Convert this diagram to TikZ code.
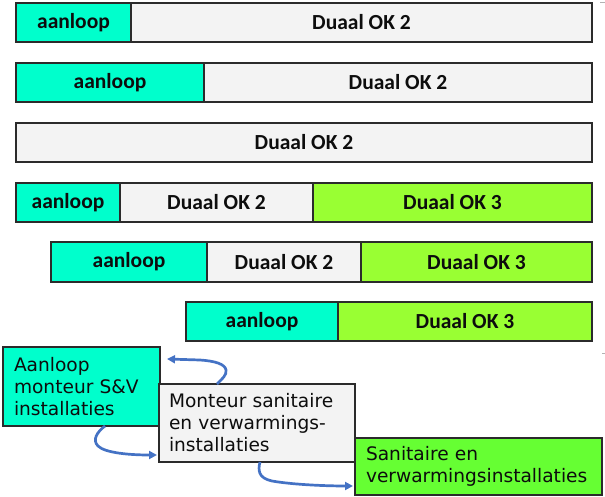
\documentclass[tikz,border=0pt]{standalone}
\usepackage{fontspec}
\newfontfamily\barfont{Carlito}
\newfontfamily\boxfont{DejaVu Sans}
\usetikzlibrary{arrows.meta}
\definecolor{aanc}{HTML}{00FFCC}
\definecolor{duaal}{HTML}{F3F3F3}
\definecolor{okdrie}{HTML}{99FF33}
\definecolor{sangreen}{HTML}{66FF33}
\definecolor{bordc}{HTML}{2B2B2B}
\definecolor{arrc}{HTML}{4472C4}
\definecolor{txtc}{HTML}{0D0D0D}
\hyphenpenalty=10000\relax
\begin{document}
\begin{tikzpicture}[x=1pt,y=-1pt,
  seg/.style={draw=bordc, line width=1.4pt, inner sep=0pt, outer sep=0pt,
    anchor=north west, minimum height=39pt, text=txtc,
    font=\barfont\bfseries\fontsize{21.5}{24}\selectfont},
  tbox/.style={draw=bordc, line width=1.3pt, outer sep=0pt, inner ysep=0pt,
    anchor=north west, align=left, text=txtc,
    font=\boxfont\fontsize{18.6}{22}\selectfont},
  conn/.style={draw=arrc, line width=2.7pt, -{Triangle[length=8pt,width=8pt]}},
  edgemark/.style={draw=gray!60, line width=1pt}]
\useasboundingbox (0,0) rectangle (605,497);
% row 1
\node[seg, fill=aanc, minimum width=115pt] (r1a) at (16,3) {aanloop};
\node[seg, fill=duaal, minimum width=461pt] (r1b) at (131,3) {Duaal OK 2};
% row 2
\node[seg, fill=aanc, minimum width=188pt] (r2a) at (16,63) {aanloop};
\node[seg, fill=duaal, minimum width=388pt] (r2b) at (204,63) {Duaal OK 2};
% row 3
\node[seg, fill=duaal, minimum width=576pt] (r3a) at (16,123) {Duaal OK 2};
% row 4
\node[seg, fill=aanc, minimum width=104pt] (r4a) at (16,183) {aanloop\hspace{12pt}};
\node[seg, fill=duaal, minimum width=193pt] (r4b) at (120,183) {Duaal OK 2};
\node[seg, fill=okdrie, minimum width=279pt] (r4c) at (313,183) {Duaal OK 3};
% row 5
\node[seg, fill=aanc, minimum width=156pt, minimum height=40pt] (r5a) at (51,242) {aanloop};
\node[seg, fill=duaal, minimum width=154pt, minimum height=40pt] (r5b) at (207,242) {Duaal OK 2};
\node[seg, fill=okdrie, minimum width=231pt, minimum height=40pt] (r5c) at (361,242) {Duaal OK 3};
% row 6
\node[seg, fill=aanc, minimum width=152pt] (r6a) at (186,302) {aanloop};
\node[seg, fill=okdrie, minimum width=254pt] (r6b) at (338,302) {Duaal OK 3};
% bottom boxes
\node[tbox, fill=aanc, inner xsep=11pt, text width=135pt, minimum height=79pt] (A) at (3,347)
  {Aanloop\\monteur S\&V\\installaties};
\node[tbox, fill=duaal, inner xsep=10pt, text width=176pt, minimum height=78pt] (B) at (159,384)
  {Monteur sanitaire\\en verwarmings-\\installaties};
\node[tbox, fill=sangreen, inner xsep=11pt, text width=225pt, minimum height=57pt] (C) at (355,438)
  {Sanitaire en\\verwarmingsinstallaties};
% connector ends
\coordinate (s1) at ([xshift=58pt]B.north west);
\coordinate (e1) at ([xshift=7pt,yshift=-12pt]A.north east);
\coordinate (s2) at ([xshift=102pt]A.south west);
\coordinate (e2) at ([xshift=-2pt,yshift=-71pt]B.north west);
\coordinate (s3) at ([xshift=101pt]B.south west);
\coordinate (e3) at ([xshift=-2pt,yshift=-48pt]C.north west);
\draw[conn] (s1) .. controls (222,379) and (227,375) .. (226,370)
  .. controls (225,364) and (215,361) .. (200,360) -- (e1);
\draw[conn] (s2) .. controls (97,432) and (92,440) .. (98,446)
  .. controls (105,453) and (130,455) .. (e2);
\draw[conn] (s3) .. controls (258,470) and (258,478) .. (272,481)
  .. controls (295,485) and (330,486) .. (e3);
% small marks at the right edge
\draw[edgemark] (600,3) -- (605,3);
\draw[edgemark] (602,353) -- (605,353);
\end{tikzpicture}
\end{document}
